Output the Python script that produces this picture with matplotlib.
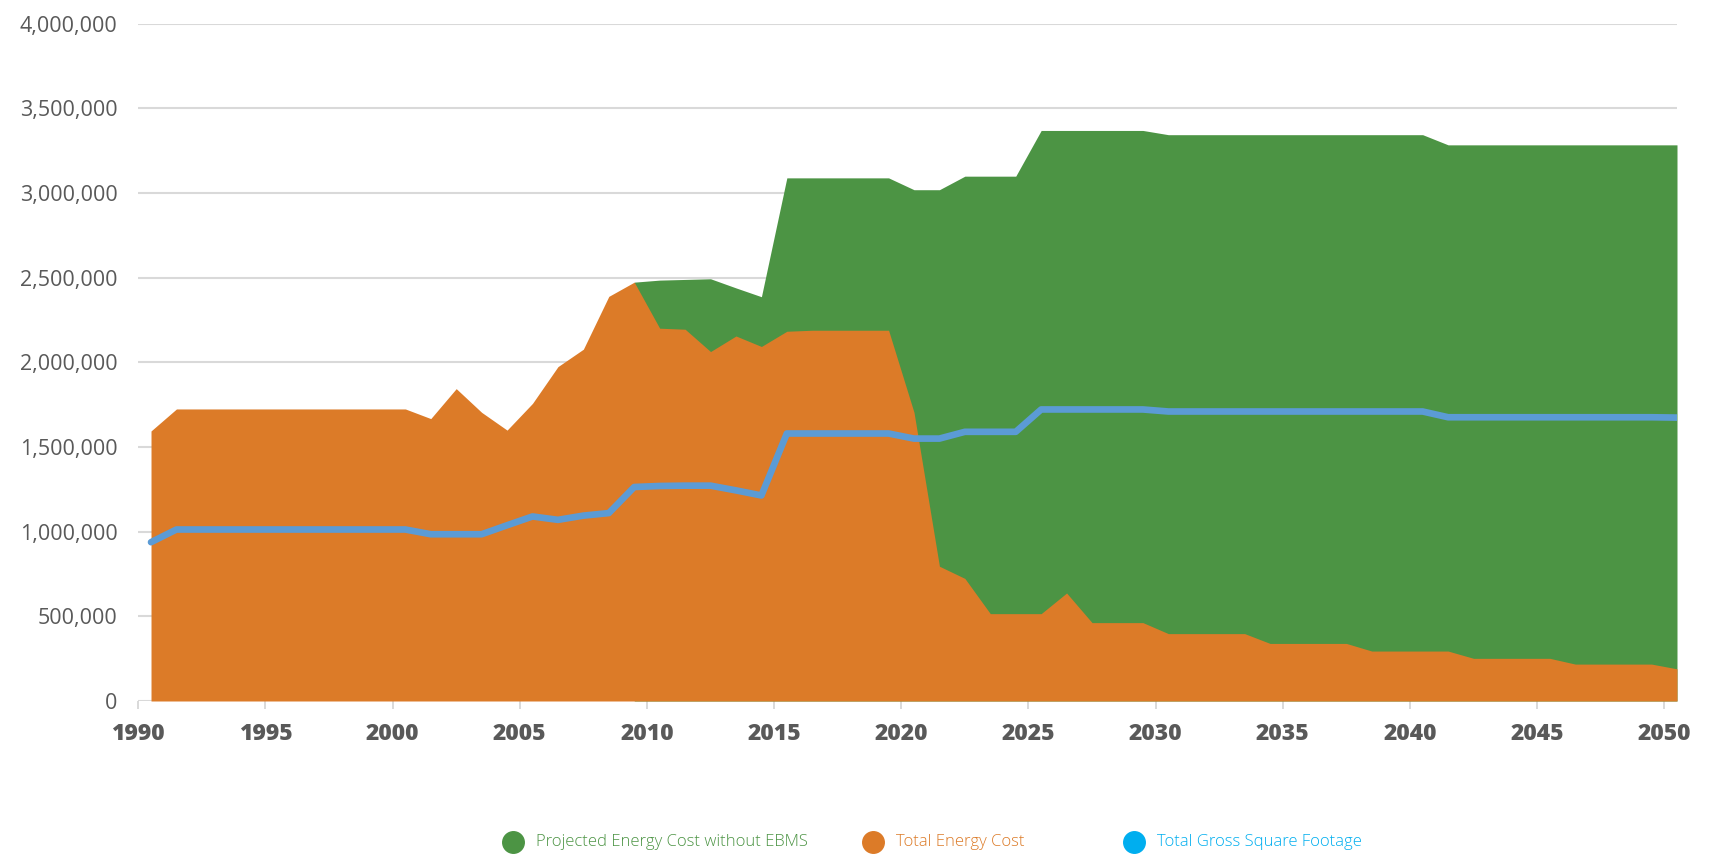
import numpy as np
import matplotlib.pyplot as plt
from matplotlib.lines import Line2D
from matplotlib.ticker import FuncFormatter

# yearly series, 1990-2050
years = np.arange(1990, 2051)

total_energy_cost = [
    1595000,
    1725000, 1725000, 1725000, 1725000, 1725000,
    1725000, 1725000, 1725000, 1725000, 1725000,
    1668000, 1845000, 1705000, 1600000, 1758000,
    1975000, 2078000, 2390000, 2474000, 2202000,
    2196000, 2064000, 2156000, 2094000, 2184000,
    2190000, 2190000, 2190000, 2190000, 1705000,
    796000, 724000, 516000, 516000, 516000,
    638000, 463000, 463000, 463000, 398000,
    398000, 398000, 398000, 340000, 340000,
    340000, 340000, 295000, 295000, 295000,
    295000, 252000, 252000, 252000, 252000,
    218000, 218000, 218000, 218000, 190000,
]

projected_cost_no_ebms = [np.nan] * 19 + [
    2474000, 2486000, 2490000, 2494000, 2440000, 2388000,
    3090000, 3090000, 3090000, 3090000, 3090000,
    3020000, 3020000,
    3100000, 3100000, 3100000,
    3370000, 3370000, 3370000, 3370000, 3370000,
    3345000, 3345000, 3345000, 3345000, 3345000, 3345000,
    3345000, 3345000, 3345000, 3345000, 3345000,
    3285000, 3285000, 3285000, 3285000, 3285000,
    3285000, 3285000, 3285000, 3285000, 3285000,
]

gross_square_footage = [
    938000,
    1013000, 1013000, 1013000, 1013000, 1013000,
    1013000, 1013000, 1013000, 1013000, 1013000,
    985000, 985000, 985000, 1038000, 1090000,
    1070000, 1095000, 1110000, 1264000, 1270000,
    1272000, 1272000, 1244000, 1214000, 1580000,
    1580000, 1580000, 1580000, 1580000, 1550000,
    1550000, 1590000, 1590000, 1590000, 1722000,
    1722000, 1722000, 1722000, 1722000, 1710000,
    1710000, 1710000, 1710000, 1710000, 1710000,
    1710000, 1710000, 1710000, 1710000, 1710000,
    1676000, 1676000, 1676000, 1676000, 1676000,
    1676000, 1676000, 1676000, 1676000, 1674000,
]

legend_labels = ["Projected Energy Cost without EBMS", "Total Energy Cost", "Total Gross Square Footage"]

GREEN = "#4c9444"
ORANGE = "#dc7b28"
LINE_BLUE = "#5b9bd5"
KEY_BLUE = "#00aeef"
GRID = "#d9d9d9"
TEXT = "#595959"

W, H = 1713, 856
fig = plt.figure(figsize=(W / 100, H / 100), dpi=100)
ax = fig.add_axes([138.3 / W, (H - 701) / H, (1677 - 138.3) / W, (701 - 23.8) / H])

# each year sits in the middle of its category slot
x = years + 0.5
ax.fill_between(x, 0, np.array(projected_cost_no_ebms, dtype=float),
                color=GREEN, linewidth=0, zorder=2)
ax.fill_between(x, 0, total_energy_cost, color=ORANGE, linewidth=0, zorder=3)
ax.plot(x, gross_square_footage, color=LINE_BLUE, lw=4.8,
        solid_capstyle="round", solid_joinstyle="round", zorder=4)

ax.set_xlim(1990, 2050.5)
ax.set_ylim(0, 4000000)
ax.set_yticks(np.arange(0, 4000001, 500000))
ax.yaxis.set_major_formatter(FuncFormatter(lambda v, p: f"{int(v):,}"))
ax.set_xticks(np.arange(1990, 2051, 5))

ax.grid(axis="y", color=GRID, linewidth=1.5)
ax.set_axisbelow(True)
for s in ax.spines.values():
    s.set_visible(False)

ax.tick_params(axis="y", length=0, pad=15, labelsize=15.5, labelcolor=TEXT)
ax.tick_params(axis="x", length=6, width=1.4, color=GRID, pad=9,
               labelsize=16.5, labelcolor=TEXT)
for lab in ax.get_yticklabels():
    lab.set_fontfamily("Open Sans")
for lab in ax.get_xticklabels():
    lab.set_fontfamily("Open Sans")
    lab.set_fontweight("heavy")

# legend row along the bottom
key_y = (H - 842) / H
keys = [(513, GREEN), (873, ORANGE), (1134, KEY_BLUE)]
for (kx, col), label in zip(keys, legend_labels):
    fig.add_artist(Line2D([kx / W], [key_y], transform=fig.transFigure,
                          marker="o", markersize=15.5, color=col, linestyle="none"))
    fig.text((kx + 23) / W, key_y, label, color=col, fontsize=12,
             family="Open Sans", fontweight="light", va="center", ha="left")

fig.savefig("out.png", dpi=100)
